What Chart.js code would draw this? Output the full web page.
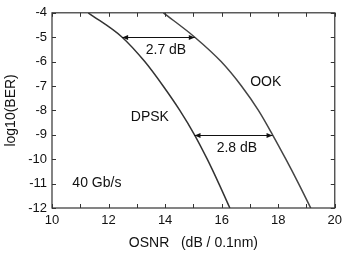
<!DOCTYPE html>
<html>
<head>
<meta charset="utf-8">
<script src="https://cdn.jsdelivr.net/npm/chart.js@4"></script>
<style>
html,body{margin:0;padding:0;background:#fff;}
#c{display:block;}
</style>
</head>
<body>
<canvas id="c" width="347" height="256"></canvas>
<script>
// ---- data ----
const berLog   = [-4, -5, -6, -7, -8, -9, -10, -11, -12];
const osnrDpsk = [11.28, 12.48, 13.28, 13.93, 14.52, 15.04, 15.49, 15.9, 16.29];
const osnrOok  = [13.94, 15.05, 15.98, 16.7, 17.3, 17.8, 18.27, 18.72, 19.15];
const xTicks   = [10, 12, 14, 16, 18, 20];
const yTicks   = [-4, -5, -6, -7, -8, -9, -10, -11, -12];

// annotations (data coordinates)
const arrowStartX = [12.48, 15.04];
const arrowEndX   = [15.05, 17.8];
const arrowY      = [-5, -9];
const noteText = ['2.7 dB', 'OOK', 'DPSK', '2.8 dB', '40 Gb/s'];
const noteX    = [14.03, 17.56, 13.46, 16.54, 10.72];
const noteY    = [-5.54, -6.83, -8.29, -9.55, -11.0];
const noteAlign = ['center', 'center', 'center', 'center', 'left'];

const toPts = (xs, ys) => xs.map((x, i) => ({x: x, y: ys[i]}));

const FONT = "'Liberation Sans', Arial, sans-serif";
const INK = '#111';

const decor = {
  id: 'decor',
  afterDatasetsDraw(chart) {
    const {ctx, chartArea: a, scales: {x, y}} = chart;
    ctx.save();
    // frame
    ctx.strokeStyle = '#333';
    ctx.lineWidth = 1.2;
    ctx.strokeRect(a.left, a.top, a.right - a.left, a.bottom - a.top);
    // inward ticks
    const tl = 4;
    ctx.lineWidth = 1;
    ctx.beginPath();
    x.ticks.forEach(t => {
      const px = Math.round(x.getPixelForValue(t.value)) + 0.5;
      ctx.moveTo(px, a.bottom); ctx.lineTo(px, a.bottom - tl);
      ctx.moveTo(px, a.top); ctx.lineTo(px, a.top + tl);
    });
    y.ticks.forEach(t => {
      const py = Math.round(y.getPixelForValue(t.value)) + 0.5;
      ctx.moveTo(a.left, py); ctx.lineTo(a.left + tl, py);
      ctx.moveTo(a.right, py); ctx.lineTo(a.right - tl, py);
    });
    ctx.stroke();
    // arrows
    ctx.strokeStyle = '#111';
    ctx.fillStyle = '#111';
    ctx.lineWidth = 1;
    arrowY.forEach((yv, i) => {
      const py = Math.round(y.getPixelForValue(yv)) + 0.5;
      const x1 = x.getPixelForValue(arrowStartX[i]);
      const x2 = x.getPixelForValue(arrowEndX[i]);
      ctx.beginPath(); ctx.moveTo(x1, py); ctx.lineTo(x2, py); ctx.stroke();
      const h = 6, w = 2.5;
      ctx.beginPath(); ctx.moveTo(x1, py); ctx.lineTo(x1 + h, py - w); ctx.lineTo(x1 + h, py + w); ctx.closePath(); ctx.fill();
      ctx.beginPath(); ctx.moveTo(x2, py); ctx.lineTo(x2 - h, py - w); ctx.lineTo(x2 - h, py + w); ctx.closePath(); ctx.fill();
    });
    // notes
    ctx.font = '14px ' + FONT;
    ctx.fillStyle = INK;
    ctx.textBaseline = 'middle';
    noteText.forEach((t, i) => {
      ctx.textAlign = noteAlign[i];
      ctx.fillText(t, x.getPixelForValue(noteX[i]), y.getPixelForValue(noteY[i]));
    });
    ctx.restore();
  }
};

new Chart(document.getElementById('c'), {
  type: 'scatter',
  data: {
    datasets: [
      {label: 'DPSK', data: toPts(osnrDpsk, berLog), showLine: true, borderColor: '#333', borderWidth: 1.5,
       pointRadius: 0, cubicInterpolationMode: 'monotone', fill: false},
      {label: 'OOK', data: toPts(osnrOok, berLog), showLine: true, borderColor: '#444', borderWidth: 1.5,
       pointRadius: 0, cubicInterpolationMode: 'monotone', fill: false}
    ]
  },
  options: {
    responsive: false,
    animation: false,
    layout: {padding: {left: 0, right: 12, top: 5, bottom: 0}},
    plugins: {legend: {display: false}, tooltip: {enabled: false}},
    scales: {
      x: {
        type: 'linear', min: 10, max: 20,
        grid: {display: false, drawTicks: false},
        border: {display: false},
        ticks: {
          stepSize: 1, autoSkip: false, maxRotation: 0, padding: 5,
          color: INK, font: {family: FONT, size: 13},
          callback: v => xTicks.includes(v) ? String(v) : ''
        },
        title: {display: true, text: 'OSNR   (dB / 0.1nm)', color: INK,
                font: {family: FONT, size: 14}, padding: {top: 0, bottom: 4}},
        afterFit: s => { s.height = 48; }
      },
      y: {
        type: 'linear', min: -12, max: -4,
        grid: {display: false, drawTicks: false},
        border: {display: false},
        ticks: {
          stepSize: 1, autoSkip: false, padding: 5,
          color: INK, font: {family: FONT, size: 13},
          callback: v => yTicks.includes(v) ? String(v) : ''
        },
        title: {display: true, text: 'log10(BER)', color: INK,
                font: {family: FONT, size: 14}, padding: {top: 3, bottom: 0}},
        afterFit: s => { s.width = 52; }
      }
    }
  },
  plugins: [decor]
});
</script>
</body>
</html>
